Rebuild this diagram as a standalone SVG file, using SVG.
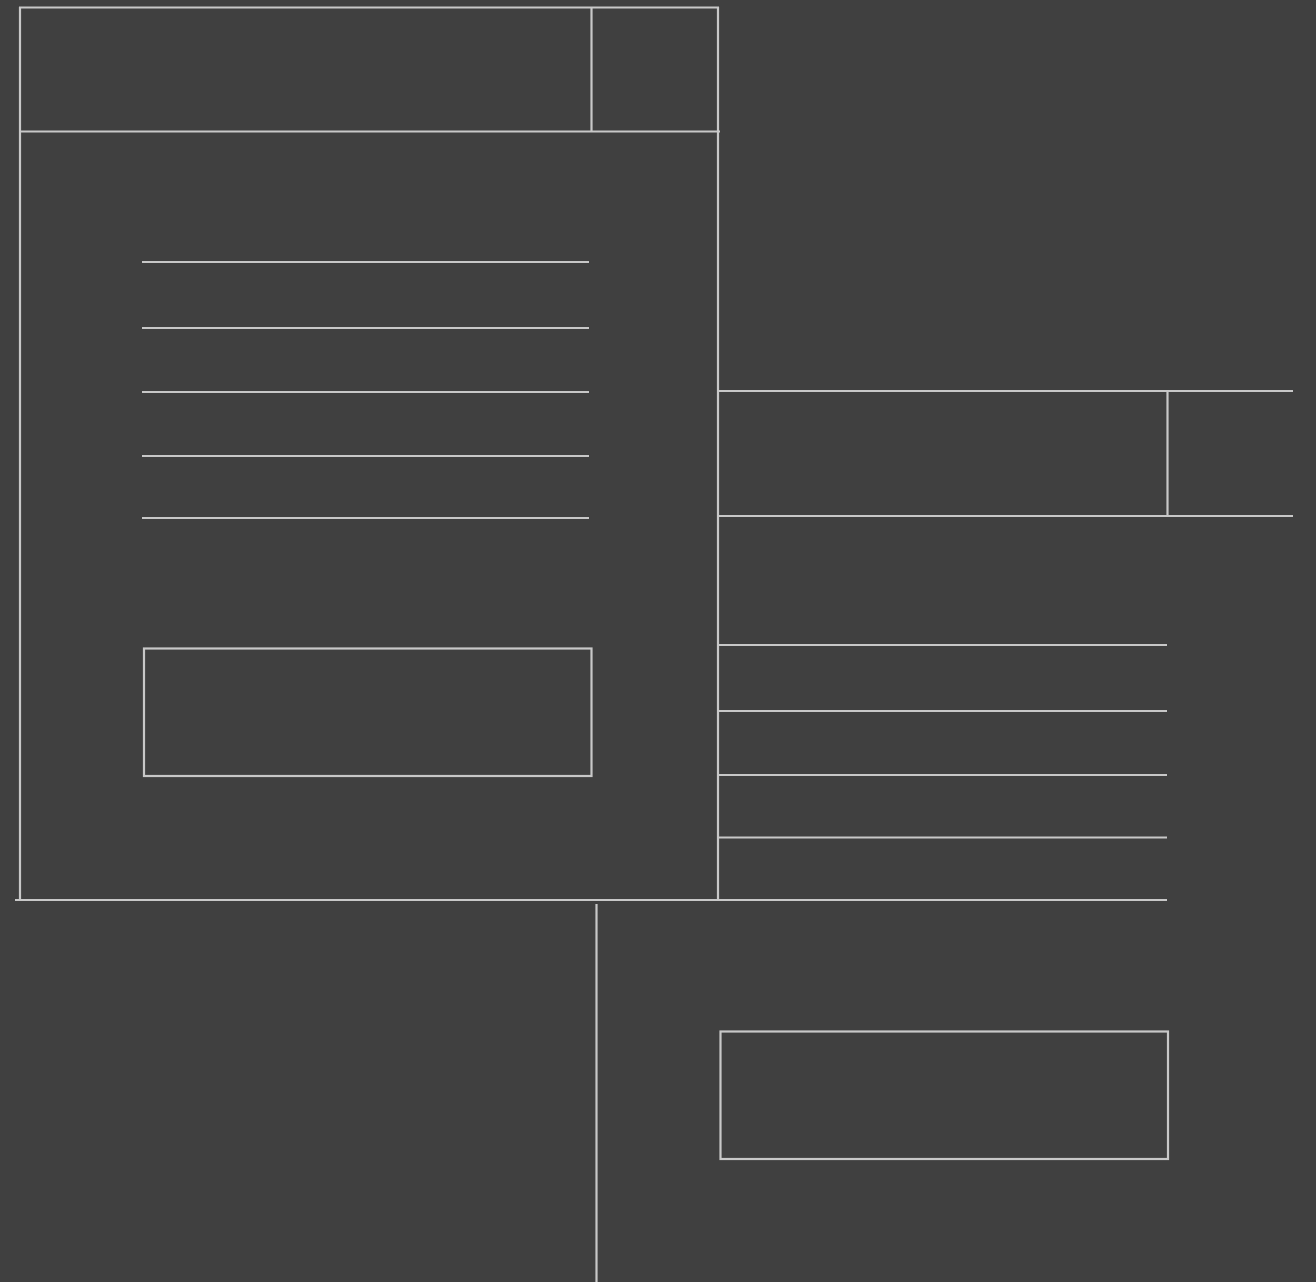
<svg xmlns="http://www.w3.org/2000/svg" width="1316" height="1282" viewBox="0 0 1316 1282">
<style>
.l{stroke:#c8c8c8;stroke-width:2.2;fill:none}
</style>
<rect width="1316" height="1282" fill="#404040"/>
<g id="left-frame" class="l">
<line x1="19" y1="7.5" x2="719" y2="7.5"/>
<line x1="20" y1="7" x2="20" y2="900"/>
<line x1="20" y1="131.5" x2="720" y2="131.5"/>
<line x1="591.5" y1="7" x2="591.5" y2="131"/>
<line x1="718" y1="7" x2="718" y2="900"/>
<line x1="15" y1="900" x2="1167" y2="900"/>
<line x1="596.5" y1="904" x2="596.5" y2="1282"/>
</g>
<g id="left-lines" class="l">
<line x1="142" y1="262" x2="589" y2="262"/>
<line x1="142" y1="328" x2="589" y2="328"/>
<line x1="142" y1="392" x2="589" y2="392"/>
<line x1="142" y1="456" x2="589" y2="456"/>
<line x1="142" y1="518" x2="589" y2="518"/>
</g>
<g id="left-box" class="l">
<rect x="144" y="648.5" width="447.5" height="127.5"/>
</g>
<g id="right-header" class="l">
<line x1="718" y1="391" x2="1293" y2="391"/>
<line x1="718" y1="516" x2="1293" y2="516"/>
<line x1="1167.5" y1="391" x2="1167.5" y2="516"/>
</g>
<g id="right-lines" class="l">
<line x1="718" y1="645" x2="1167" y2="645"/>
<line x1="718" y1="711" x2="1167" y2="711"/>
<line x1="718" y1="775" x2="1167" y2="775"/>
<line x1="718" y1="837.5" x2="1167" y2="837.5"/>
</g>
<g id="right-box" class="l">
<rect x="720.5" y="1031.5" width="447.5" height="127.5"/>
</g>
</svg>
